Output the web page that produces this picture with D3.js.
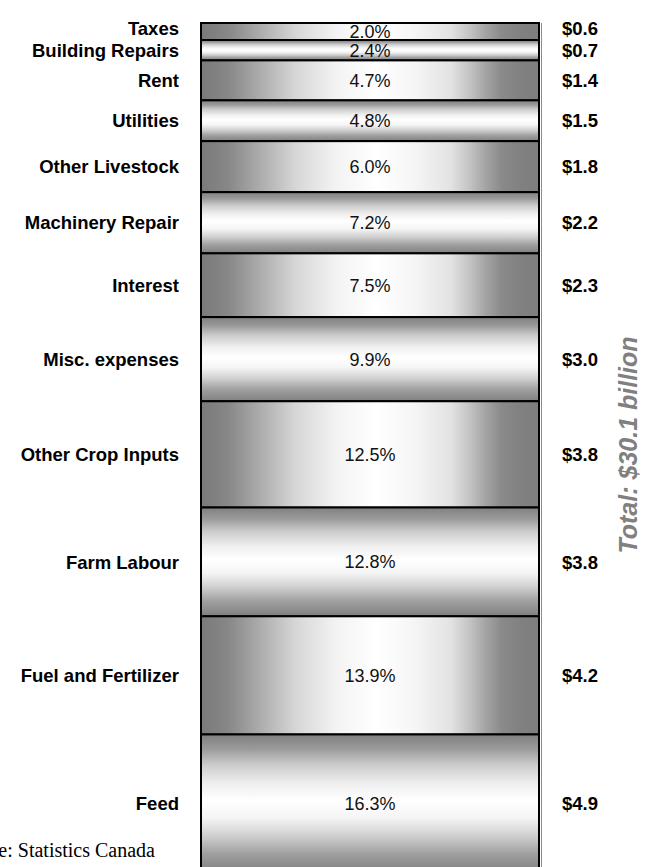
<!DOCTYPE html>
<html>
<head>
<meta charset="utf-8">
<script src="https://cdn.jsdelivr.net/npm/d3@7"></script>
<style>
    body { margin: 0; background: #fff; }
    svg text { font-family: "Liberation Sans", Arial, sans-serif; }
</style>
</head>
<body>
<svg id="plot" width="645" height="867"></svg>
<script>
// expense categories, top of the column first
var categories = ["Taxes", "Building Repairs", "Rent", "Utilities", "Other Livestock",
    "Machinery Repair", "Interest", "Misc. expenses", "Other Crop Inputs",
    "Farm Labour", "Fuel and Fertilizer", "Feed"];
var shares = [2.0, 2.4, 4.7, 4.8, 6.0, 7.2, 7.5, 9.9, 12.5, 12.8, 13.9, 16.3];
var amounts = [0.6, 0.7, 1.4, 1.5, 1.8, 2.2, 2.3, 3.0, 3.8, 3.8, 4.2, 4.9];
var totalLabel = "Total: $30.1 billion";
var sourceLabel = "Source: Statistics Canada";

const plot = d3.select("svg#plot");

let rows = [];
let acc = 0;
categories.forEach((c, i) => {
    rows.push({ name: c, share: shares[i], amount: amounts[i], y0: acc, y1: acc + shares[i], idx: i });
    acc += shares[i];
});

let yScale = d3.scaleLinear()
                .domain([0, 100])
                .range([23, 873]);
let xScale = d3.scaleBand()
                .domain(["all"])
                .range([201, 539]);

// gradients: horizontal and vertical metal look
let defs = plot.append("defs");
let hGrad = defs.append("linearGradient")
                .attr("id", "hGrad")
                .attr("x1", 0).attr("y1", 0).attr("x2", 1).attr("y2", 0);
[[0, "#7a7a7a"], [0.08, "#878787"], [0.18, "#aeaeae"], [0.28, "#d6d6d6"], [0.4, "#f3f3f3"],
 [0.52, "#ffffff"], [0.63, "#f6f6f6"], [0.74, "#e2e2e2"], [0.8, "#c0c0c0"], [0.84, "#a5a5a5"],
 [0.89, "#8a8a8a"], [0.95, "#808080"], [1, "#7e7e7e"]].forEach(s => {
    hGrad.append("stop").attr("offset", s[0]).attr("stop-color", s[1]);
});
let vGrad = defs.append("linearGradient")
                .attr("id", "vGrad")
                .attr("x1", 0).attr("y1", 0).attr("x2", 0).attr("y2", 1);
[[0, "#808080"], [0.1, "#999999"], [0.22, "#cccccc"], [0.36, "#f0f0f0"], [0.48, "#ffffff"],
 [0.6, "#f5f5f5"], [0.73, "#d0d0d0"], [0.86, "#a0a0a0"], [1, "#808080"]].forEach(s => {
    vGrad.append("stop").attr("offset", s[0]).attr("stop-color", s[1]);
});

// gray axis line on the right of the column
plot.append("line")
    .attr("x1", xScale.range()[1] + 2.5)
    .attr("x2", xScale.range()[1] + 2.5)
    .attr("y1", yScale(0))
    .attr("y2", yScale(100))
    .style("stroke", "#8c8c8c")
    .style("stroke-width", 1);

// segments
plot.append("g")
    .attr("id", "segments")
    .selectAll("rect")
    .data(rows)
    .join("rect")
    .attr("x", xScale("all"))
    .attr("width", xScale.bandwidth())
    .attr("y", d => yScale(d.y0))
    .attr("height", d => yScale(d.y1) - yScale(d.y0))
    .attr("fill", d => d.idx % 2 == 0 ? "url(#hGrad)" : "url(#vGrad)")
    .style("stroke", "black")
    .style("stroke-width", 2);

let mid = d => (yScale(d.y0) + yScale(d.y1)) / 2;

// outside labels: start at the middle of each segment, push up where they crowd
let minGap = 22;
rows.forEach(d => d.labelY = mid(d));
for (let i = rows.length - 2; i >= 0; i--) {
    if (rows[i].labelY > rows[i + 1].labelY - minGap) {
        rows[i].labelY = rows[i + 1].labelY - minGap;
    }
}

// percentages inside
plot.append("g")
    .selectAll("text")
    .data(rows)
    .join("text")
    .attr("x", xScale("all") + xScale.bandwidth() / 2)
    .attr("y", d => mid(d))
    .attr("dy", "0.36em")
    .style("text-anchor", "middle")
    .style("font-size", "18px")
    .style("fill", "#111")
    .text(d => d.share.toFixed(1) + "%");

// category names
plot.append("g")
    .selectAll("text")
    .data(rows)
    .join("text")
    .attr("x", 179)
    .attr("y", d => d.labelY)
    .attr("dy", "0.36em")
    .style("text-anchor", "end")
    .style("font-size", "18.5px")
    .style("font-weight", "bold")
    .text(d => d.name);

// dollar amounts
plot.append("g")
    .selectAll("text")
    .data(rows)
    .join("text")
    .attr("x", 562)
    .attr("y", d => d.labelY)
    .attr("dy", "0.36em")
    .style("font-size", "18.5px")
    .style("font-weight", "bold")
    .text(d => "$" + d.amount.toFixed(1));

// total
plot.append("text")
    .attr("transform", "translate(637, 445) rotate(-90)")
    .style("text-anchor", "middle")
    .style("font-size", "25px")
    .style("font-weight", "bold")
    .style("font-style", "italic")
    .style("fill", "#808080")
    .text(totalLabel);

// source note, partly off the left edge
plot.append("text")
    .attr("x", 155)
    .attr("y", 857)
    .style("text-anchor", "end")
    .style("font-family", "'Times New Roman', 'Liberation Serif', serif")
    .style("font-size", "20px")
    .text(sourceLabel);
</script>
</body>
</html>
